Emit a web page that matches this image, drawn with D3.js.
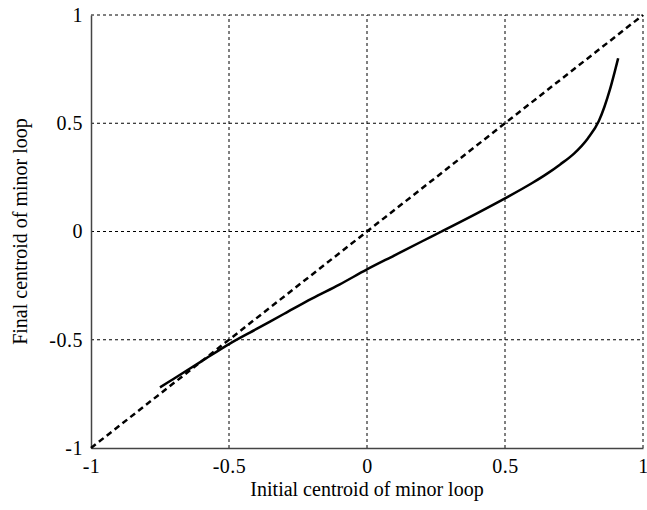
<!DOCTYPE html>
<html>
<head>
<meta charset="utf-8">
<script src="https://cdn.jsdelivr.net/npm/d3@7"></script>
<style>
  body { margin: 0; background: #fff; }
  text { font-family: "Liberation Serif", "Times New Roman", serif; fill: #000; }
</style>
</head>
<body>
<div id="chart"></div>
<script>
// data
const initial = [-0.75, -0.7, -0.6, -0.5, -0.4, -0.3, -0.2, -0.1, 0, 0.1, 0.2, 0.27, 0.4, 0.5, 0.6, 0.65, 0.7, 0.75, 0.8, 0.84, 0.86, 0.88, 0.9, 0.91];
const final = [-0.72, -0.68, -0.6, -0.52, -0.45, -0.38, -0.31, -0.245, -0.175, -0.11, -0.045, 0, 0.085, 0.153, 0.225, 0.265, 0.31, 0.36, 0.43, 0.51, 0.575, 0.655, 0.75, 0.8];
const diagonal = [-1, 1];
const ticks = [-1, -0.5, 0, 0.5, 1];

const W = 647, H = 510;
const margin = {top: 15, right: 4, bottom: 62, left: 91};

const svg = d3.select('#chart')
  .append('svg')
  .attr('width', W)
  .attr('height', H);

const x = d3.scaleLinear()
  .domain([-1, 1])
  .range([margin.left, W - margin.right]);

const y = d3.scaleLinear()
  .domain([-1, 1])
  .range([H - margin.bottom, margin.top]);

// grid
svg.append('g')
  .selectAll('line')
  .data(ticks.filter(d => d > -1))
  .enter()
  .append('line')
    .attr('x1', d => x(d)).attr('x2', d => x(d))
    .attr('y1', y(-1)).attr('y2', y(1))
    .attr('stroke', '#000')
    .attr('stroke-width', 1)
    .attr('stroke-dasharray', '3,3');

svg.append('g')
  .selectAll('line')
  .data(ticks.filter(d => d > -1))
  .enter()
  .append('line')
    .attr('y1', d => y(d)).attr('y2', d => y(d))
    .attr('x1', x(-1)).attr('x2', x(1))
    .attr('stroke', '#000')
    .attr('stroke-width', 1)
    .attr('stroke-dasharray', '3,3');

// axes (plain hyphen for minus, like the original)
const fmt = d => String(d);
const xAxis = d3.axisBottom(x).tickValues(ticks).tickFormat(fmt).tickSize(0).tickPadding(11);
const yAxis = d3.axisLeft(y).tickValues(ticks).tickFormat(fmt).tickSize(0).tickPadding(8);

const gx = svg.append('g')
  .attr('transform', `translate(0,${y(-1)})`)
  .call(xAxis);
const gy = svg.append('g')
  .attr('transform', `translate(${x(-1)},0)`)
  .call(yAxis);

[gx, gy].forEach(g => {
  g.select('.domain').attr('stroke', '#444').attr('stroke-width', 1.5);
  g.selectAll('text')
    .style('font-size', '20px')
    .style('letter-spacing', '0.5px')
    .style('font-family', '"Liberation Serif", serif');
});

// the y = x reference
const line = d3.line()
  .x(d => x(d[0]))
  .y(d => y(d[1]));

svg.append('path')
  .datum(diagonal.map(d => [d, d]))
  .attr('d', line)
  .attr('fill', 'none')
  .attr('stroke', '#000')
  .attr('stroke-width', 2.5)
  .attr('stroke-dasharray', '6,4');

// measured curve
svg.append('path')
  .datum(initial.map((d, i) => [d, final[i]]))
  .attr('d', line.curve(d3.curveMonotoneX))
  .attr('fill', 'none')
  .attr('stroke', '#000')
  .attr('stroke-width', 2.5);

// labels
svg.append('text')
  .attr('x', (x(-1) + x(1)) / 2)
  .attr('y', 496)
  .style('text-anchor', 'middle')
  .style('font-size', '20px')
  .text('Initial centroid of minor loop');

svg.append('text')
  .attr('transform', `translate(27,${(y(-1) + y(1)) / 2}) rotate(-90)`)
  .style('text-anchor', 'middle')
  .style('font-size', '20px')
  .text('Final centroid of minor loop');
</script>
</body>
</html>
